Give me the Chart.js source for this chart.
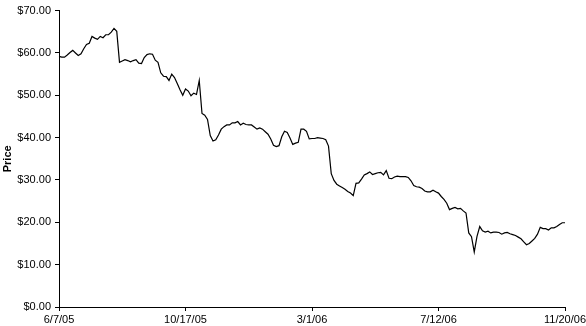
<!DOCTYPE html>
<html>
<head>
<meta charset="utf-8">
<script src="https://cdn.jsdelivr.net/npm/chart.js@4/dist/chart.umd.min.js"></script>
<style>
  html, body { margin: 0; padding: 0; background: #fff; }
  #chart { display: block; }
</style>
</head>
<body>
<canvas id="chart" width="586" height="326"></canvas>
<script>
// tick labels on the date axis (one every 46 samples)
const tickLabels = ['6/7/05', '10/17/05', '3/1/06', '7/12/06', '11/20/06'];
const tickStep = 46;

// closing price, sampled every second trading day
const prices = [
  59.2, 59.0, 59.0, 59.5, 60.1, 60.6, 60.0, 59.4, 59.8, 61.0,
  62.0, 62.3, 63.9, 63.5, 63.2, 63.9, 63.6, 64.3, 64.3, 64.9,
  65.8, 65.1, 57.8, 58.1, 58.4, 58.2, 57.9, 58.2, 58.4, 57.6,
  57.5, 58.9, 59.6, 59.8, 59.7, 58.3, 57.8, 55.3, 54.5, 54.4,
  53.5, 55.0, 54.2, 52.8, 51.3, 50.0, 51.5, 51.0, 49.9, 50.5,
  50.2, 53.5, 45.7, 45.3, 44.3, 40.5, 39.2, 39.5, 40.6, 42.0,
  42.6, 43.0, 43.0, 43.5, 43.5, 43.8, 43.0, 43.4, 43.1, 43.0,
  43.0, 42.5, 42.0, 42.3, 42.0, 41.4, 40.8, 39.7, 38.2, 37.9,
  38.1, 40.2, 41.5, 41.2, 39.9, 38.4, 38.7, 38.9, 42.0, 42.0,
  41.5, 39.7, 39.8, 39.8, 40.0, 39.9, 39.8, 39.5, 38.0, 31.5,
  29.9, 29.0, 28.6, 28.2, 27.8, 27.3, 26.9, 26.3, 29.2, 29.3,
  30.2, 31.2, 31.5, 31.9, 31.3, 31.5, 31.7, 31.8, 31.2, 32.2,
  30.4, 30.3, 30.7, 30.9, 30.8, 30.8, 30.8, 30.6, 29.8, 28.7,
  28.4, 28.3, 28.0, 27.4, 27.2, 27.2, 27.6, 27.2, 26.9, 26.1,
  25.4, 24.5, 23.0, 23.3, 23.5, 23.2, 23.3, 22.7, 22.2, 17.5,
  16.6, 13.0, 16.7, 19.0, 18.0, 17.7, 17.9, 17.5, 17.7, 17.7,
  17.6, 17.2, 17.5, 17.6, 17.3, 17.1, 16.9, 16.5, 16.1, 15.4,
  14.7, 15.0, 15.6, 16.2, 17.2, 18.8, 18.5, 18.5, 18.2, 18.7,
  18.7, 19.0, 19.5, 19.9, 19.9
];

// y axis range
const yMin = 0;
const yMax = 70;
const yStep = 10;

const labels = prices.map((_, i) => (i % tickStep === 0 ? tickLabels[i / tickStep] : ''));

const axisFont = { family: '"Liberation Sans", Arial, sans-serif', size: 11 };

new Chart(document.getElementById('chart'), {
  type: 'line',
  data: {
    labels: labels,
    datasets: [{
      data: prices,
      borderColor: '#000',
      borderWidth: 1.2,
      pointRadius: 0,
      tension: 0,
      fill: false
    }]
  },
  options: {
    responsive: false,
    animation: false,
    devicePixelRatio: 1,
    layout: { padding: { top: 7, right: 21, bottom: 0, left: 0 } },
    plugins: {
      legend: { display: false },
      tooltip: { enabled: false }
    },
    scales: {
      x: {
        type: 'category',
        offset: false,
        afterBuildTicks: axis => {
          axis.ticks = axis.ticks.filter(t => labels[t.value] !== '');
        },
        afterFit: axis => {
          axis.height = 19;
          axis.paddingRight = 0;
          axis.paddingLeft = 0;
        },
        grid: { display: true, drawOnChartArea: false, drawTicks: true, tickLength: 4, color: '#000' },
        border: { display: true, color: '#000', width: 1 },
        ticks: {
          autoSkip: false,
          maxRotation: 0,
          padding: 2,
          color: '#000',
          font: axisFont,
          callback: function (value) { return labels[value]; }
        }
      },
      y: {
        min: yMin,
        max: yMax,
        afterFit: axis => { axis.width = 59; },
        grid: { display: true, drawOnChartArea: false, drawTicks: true, tickLength: 4, color: '#000' },
        border: { display: true, color: '#000', width: 1 },
        ticks: {
          stepSize: yStep,
          padding: 4,
          color: '#000',
          font: axisFont,
          callback: v => '$' + v.toFixed(2)
        },
        title: {
          display: true,
          text: 'Price',
          color: '#000',
          padding: { top: 1, bottom: 0 },
          font: { family: '"Liberation Sans", Arial, sans-serif', size: 11, weight: 'bold' }
        }
      }
    }
  }
});
</script>
</body>
</html>
